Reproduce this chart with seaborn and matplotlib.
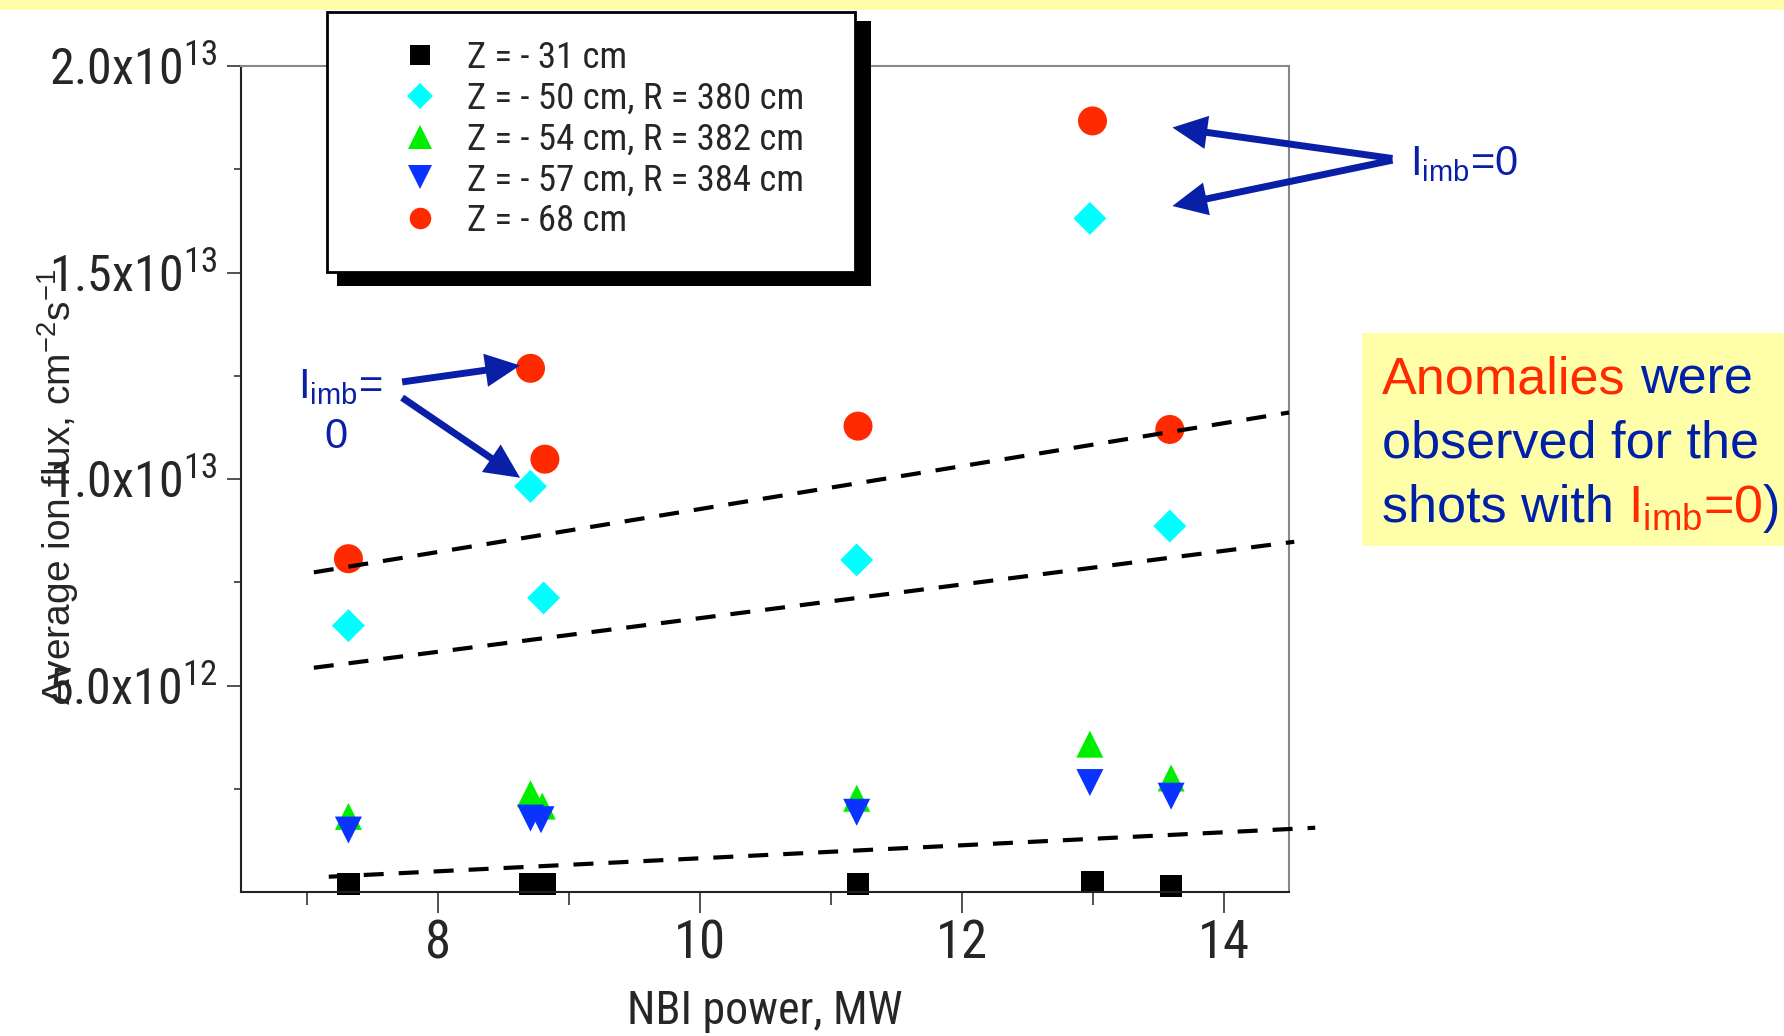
import numpy as np
import pandas as pd
import matplotlib
matplotlib.use("Agg")
import matplotlib.pyplot as plt
import seaborn as sns
from matplotlib.lines import Line2D
from matplotlib.patches import Rectangle
from matplotlib.font_manager import FontProperties

# ---------------- data ----------------
series_names = ["Z = - 31 cm", "Z = - 50 cm, R = 380 cm", "Z = - 54 cm, R = 382 cm",
                "Z = - 57 cm, R = 384 cm", "Z = - 68 cm"]

z31_power = [7.32, 8.71, 8.82, 11.21, 13.00, 13.60]
z31_flux = [1.98e11, 1.98e11, 1.98e11, 1.98e11, 2.46e11, 1.50e11]

z50_power = [7.32, 8.71, 8.81, 11.20, 12.98, 13.59]
z50_flux = [6.45e12, 9.82e12, 7.12e12, 8.04e12, 1.631e13, 8.86e12]

z54_power = [7.32, 8.71, 8.80, 11.20, 12.98, 13.60]
z54_flux = [1.83e12, 2.38e12, 2.08e12, 2.27e12, 3.58e12, 2.76e12]

z57_power = [7.32, 8.71, 8.79, 11.20, 12.98, 13.60]
z57_flux = [1.50e12, 1.79e12, 1.75e12, 1.93e12, 2.65e12, 2.32e12]

z68_power = [7.32, 8.71, 8.82, 11.21, 13.00, 13.59]
z68_flux = [8.07e12, 1.268e13, 1.048e13, 1.128e13, 1.867e13, 1.120e13]

# dashed trend lines
trend_upper_x = [7.056, 14.50]
trend_upper_y = [7.74e12, 1.161e13]
trend_middle_x = [7.056, 14.54]
trend_middle_y = [5.43e12, 8.48e12]
trend_lower_x = [7.17, 14.70]
trend_lower_y = [3.7e11, 1.556e12]

x_major_ticks = [8, 10, 12, 14]
x_minor_ticks = [7, 9, 11, 13]
y_major_ticks = [5e12, 1e13, 1.5e13, 2e13]
y_minor_ticks = [2.5e12, 7.5e12, 1.25e13, 1.75e13]
y_tick_labels = [r"$\mathdefault{5.0x10^{12}}$", r"$\mathdefault{1.0x10^{13}}$",
                 r"$\mathdefault{1.5x10^{13}}$", r"$\mathdefault{2.0x10^{13}}$"]

# arrows (data coordinates: tail -> tip)
arrow_tails = [(15.29, 1.776e13), (15.29, 1.772e13), (7.73, 1.235e13), (7.73, 1.197e13)]
arrow_tips = [(13.61, 1.851e13), (13.61, 1.661e13), (8.63, 1.275e13), (8.63, 1.003e13)]

# ---------------- style ----------------
W, H = 1784, 1036
sns.set_style("ticks")
NARROW = ["Roboto Condensed", "Liberation Sans", "DejaVu Sans"]
REG = ["Liberation Sans", "DejaVu Sans"]
plt.rcParams["font.family"] = NARROW
plt.rcParams["mathtext.fontset"] = "custom"
plt.rcParams["mathtext.rm"] = "Liberation Sans"
plt.rcParams["mathtext.it"] = "Liberation Sans:italic"
plt.rcParams["mathtext.bf"] = "Liberation Sans:bold"

colors = {series_names[0]: "#000000", series_names[1]: "#00FFFF", series_names[2]: "#00EE00",
          series_names[3]: "#0A33FF", series_names[4]: "#FF2A00"}
markers = {series_names[0]: "s", series_names[1]: "D", series_names[2]: "^",
           series_names[3]: "v", series_names[4]: "o"}
sizes = {series_names[0]: 260, series_names[1]: 282, series_names[2]: 378,
         series_names[3]: 378, series_names[4]: 436}
legend_ms = {series_names[0]: 14.5, series_names[1]: 13.0, series_names[2]: 17.5,
             series_names[3]: 17.5, series_names[4]: 15.5}

# draw order: circles, squares, diamonds, up-triangles, down-triangles
blocks = [(series_names[4], z68_power, z68_flux),
          (series_names[0], z31_power, z31_flux),
          (series_names[1], z50_power, z50_flux),
          (series_names[2], z54_power, z54_flux),
          (series_names[3], z57_power, z57_flux)]
df = pd.concat([pd.DataFrame({"power": xs, "flux": ys, "series": name}) for name, xs, ys in blocks],
               ignore_index=True)

fig = plt.figure(figsize=(W / 100, H / 100), dpi=100)
fig.patch.set_facecolor("white")
ax = fig.add_axes([241 / W, 1 - 892 / H, (1289 - 241) / W, (892 - 66) / H])

sns.scatterplot(data=df, x="power", y="flux", hue="series", style="series", size="series",
                palette=colors, markers=markers, sizes=sizes, linewidth=0,
                legend=False, ax=ax, zorder=2, clip_on=False)

dash = (0, (4.8, 3.6))
for tx, ty in [(trend_upper_x, trend_upper_y), (trend_middle_x, trend_middle_y),
               (trend_lower_x, trend_lower_y)]:
    ax.plot(tx, ty, color="black", lw=3, linestyle=dash, clip_on=False, zorder=3,
            dash_capstyle="butt")

ax.set_xlim(6.5, 14.5)
ax.set_ylim(0, 2e13)
ax.set_xticks(x_major_ticks, labels=[str(v) for v in x_major_ticks], fontsize=38, fontfamily=NARROW)
ax.set_xticks(x_minor_ticks, minor=True)
ax.set_yticks(y_major_ticks, labels=y_tick_labels, fontsize=36, fontfamily=NARROW)
ax.set_yticks(y_minor_ticks, minor=True)

ax.tick_params(axis="y", which="major", length=10, width=1.1, direction="out", pad=7, color="#222222")
ax.tick_params(axis="y", which="minor", length=5, width=1.1, direction="out", color="#222222")
ax.tick_params(axis="x", which="major", length=15, width=1.1, direction="out", pad=4, color="#222222")
ax.tick_params(axis="x", which="minor", length=9, width=1.1, direction="out", color="#222222")

for side in ["left", "bottom"]:
    ax.spines[side].set_color("#222222")
    ax.spines[side].set_linewidth(1.5)
for side in ["top", "right"]:
    ax.spines[side].set_visible(True)
    ax.spines[side].set_color("#888888")
    ax.spines[side].set_linewidth(1.5)

ax.set_xlabel("NBI power, MW", fontsize=33, fontfamily=NARROW, labelpad=14)
ax.set_ylabel(r"Average ion flux, cm$^{\mathdefault{-2}}$s$^{\mathdefault{-1}}$",
              fontsize=28, fontfamily=REG)
ax.yaxis.set_label_coords(-0.153, 0.49)

# ---------------- legend with shadow box ----------------
def fx(px):
    return px / W


def fy(py):
    return 1 - py / H


shadow = Rectangle((fx(337), fy(286)), fx(871) - fx(337), fy(21) - fy(286), transform=fig.transFigure,
                   facecolor="black", edgecolor="none", zorder=4.7, clip_on=False)
frame = Rectangle((fx(327), fy(272)), fx(855) - fx(327), fy(12) - fy(272), transform=fig.transFigure,
                  facecolor="white", edgecolor="black", lw=2.0, zorder=4.8, clip_on=False)
ax.add_artist(shadow)
ax.add_artist(frame)

handles = [Line2D([], [], ls="none", marker=markers[n], color=colors[n], markersize=legend_ms[n],
                  markeredgewidth=0) for n in series_names]
leg = ax.legend(handles, series_names, loc="upper left", bbox_to_anchor=(fx(402), fy(40)),
                bbox_transform=fig.transFigure, frameon=False, borderpad=0, borderaxespad=0,
                handlelength=1.0, handletextpad=0.77, labelspacing=0.13,
                prop=FontProperties(family=NARROW, size=26.5))
leg.set_zorder(5)

# ---------------- decorations ----------------
fig.patches.append(Rectangle((0, fy(10)), 1, 10 / H, transform=fig.transFigure,
                             facecolor="#FFFFAA", edgecolor="none", zorder=0))
fig.patches.append(Rectangle((fx(1362), fy(546)), 1 - fx(1362), fy(333) - fy(546),
                             transform=fig.transFigure, facecolor="#FFFFAA", edgecolor="none", zorder=1))

ARROW_BLUE = "#0A1FA8"
for tail, tip in zip(arrow_tails, arrow_tips):
    ax.annotate("", xy=tip, xytext=tail, xycoords="data", textcoords="data", annotation_clip=False,
                arrowprops=dict(arrowstyle="simple,head_length=1.25,head_width=1.2,tail_width=0.25",
                                mutation_scale=20, fc=ARROW_BLUE, ec="none", lw=0,
                                shrinkA=0, shrinkB=0), zorder=6)

fig.text(fx(1410), fy(175), r"$\mathdefault{I_{imb}}$=0", fontsize=30, color=ARROW_BLUE,
         family=REG, va="baseline", ha="left")
fig.text(fx(298), fy(398), r"$\mathdefault{I_{imb}}$=", fontsize=30, color=ARROW_BLUE,
         family=REG, va="baseline", ha="left")
fig.text(fx(336), fy(448), "0", fontsize=30, color=ARROW_BLUE, family=REG, va="baseline", ha="center")

RED = "#FF2A00"
BLUE = "#0020A8"
fig.canvas.draw()
renderer = fig.canvas.get_renderer()
box_size = 37.5
space_px = 0.278 * box_size * 100 / 72
box_lines = [
    (394, [("Anomalies", RED, 0), ("were", BLUE, 1)]),
    (457, [("observed for the", BLUE, 0)]),
    (522, [("shots with", BLUE, 0), (r"$\mathdefault{I_{imb}}$=0", RED, 1), (")", BLUE, 0)]),
]
for base_y, pieces in box_lines:
    xpos = 1382
    for s, c, gap in pieces:
        xpos += gap * space_px
        t = fig.text(fx(xpos), fy(base_y), s, fontsize=box_size, color=c, family=REG,
                     va="baseline", ha="left")
        xpos = t.get_window_extent(renderer).x1

fig.savefig("out.png", dpi=100)
